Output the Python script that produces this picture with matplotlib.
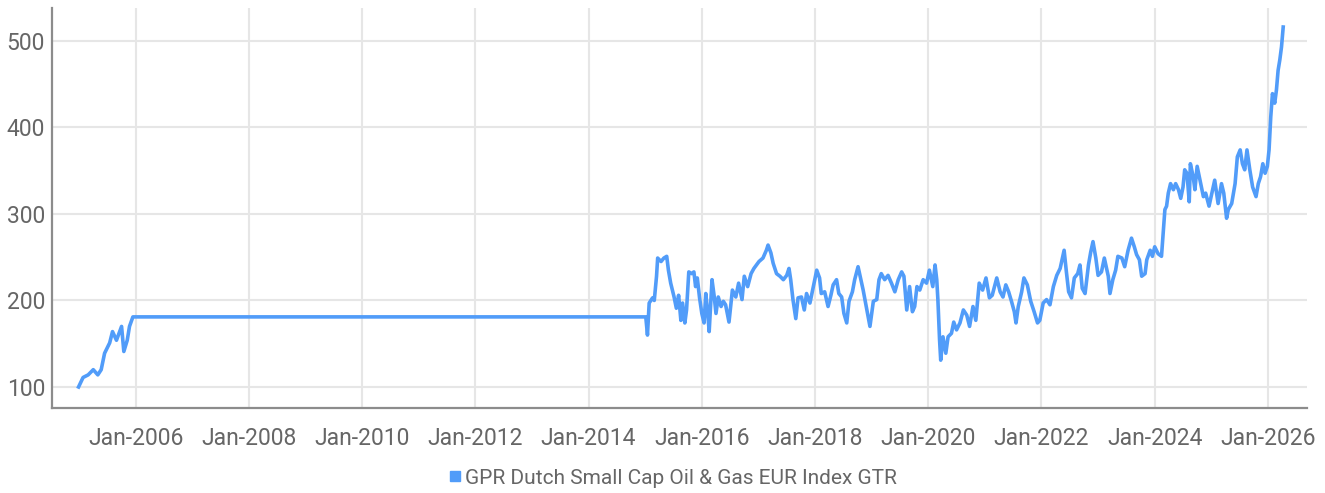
import matplotlib
matplotlib.use("Agg")
import matplotlib.pyplot as plt
from matplotlib.lines import Line2D

plt.rcParams['font.family'] = ['Roboto', 'DejaVu Sans']

series_name = "GPR Dutch Small Cap Oil & Gas EUR Index GTR"

# decimal years
years = [
    2004.99, 2005.07, 2005.16, 2005.25, 2005.33, 2005.39, 2005.45, 2005.54,
    2005.59, 2005.66, 2005.75, 2005.79, 2005.85, 2005.89, 2005.95, 2006.01,
    2015.01, 2015.04, 2015.07, 2015.13, 2015.16, 2015.20, 2015.22, 2015.28,
    2015.33, 2015.38, 2015.41, 2015.45, 2015.51, 2015.55, 2015.59, 2015.63,
    2015.66, 2015.70, 2015.73, 2015.77, 2015.82, 2015.86, 2015.89, 2015.92,
    2015.96, 2016.00, 2016.04, 2016.07, 2016.10, 2016.13, 2016.18, 2016.22,
    2016.25, 2016.29, 2016.34, 2016.38, 2016.42, 2016.48, 2016.54, 2016.60,
    2016.65, 2016.71, 2016.75, 2016.81, 2016.87, 2016.92, 2017.01, 2017.08,
    2017.14, 2017.17, 2017.22, 2017.26, 2017.32, 2017.38, 2017.44, 2017.50,
    2017.54, 2017.57, 2017.61, 2017.66, 2017.70, 2017.76, 2017.81, 2017.85,
    2017.91, 2017.97, 2018.03, 2018.08, 2018.11, 2018.17, 2018.23, 2018.28,
    2018.32, 2018.38, 2018.42, 2018.47, 2018.51, 2018.56, 2018.60, 2018.66,
    2018.70, 2018.76, 2018.81, 2018.85, 2018.91, 2018.97, 2019.03, 2019.09,
    2019.13, 2019.17, 2019.23, 2019.29, 2019.35, 2019.41, 2019.47, 2019.53,
    2019.57, 2019.62, 2019.67, 2019.72, 2019.76, 2019.80, 2019.85, 2019.91,
    2019.97, 2020.02, 2020.08, 2020.12, 2020.15, 2020.17, 2020.20, 2020.22,
    2020.26, 2020.31, 2020.35, 2020.41, 2020.45, 2020.50, 2020.56, 2020.62,
    2020.68, 2020.73, 2020.79, 2020.84, 2020.90, 2020.96, 2021.02, 2021.08,
    2021.13, 2021.21, 2021.27, 2021.32, 2021.37, 2021.42, 2021.47, 2021.52,
    2021.55, 2021.59, 2021.65, 2021.69, 2021.75, 2021.81, 2021.87, 2021.93,
    2021.97, 2022.03, 2022.09, 2022.15, 2022.21, 2022.27, 2022.33, 2022.37,
    2022.40, 2022.44, 2022.48, 2022.53, 2022.58, 2022.64, 2022.68, 2022.72,
    2022.77, 2022.83, 2022.87, 2022.91, 2022.96, 2023.00, 2023.06, 2023.11,
    2023.18, 2023.21, 2023.26, 2023.31, 2023.35, 2023.42, 2023.47, 2023.53,
    2023.59, 2023.64, 2023.68, 2023.73, 2023.77, 2023.83, 2023.86, 2023.92,
    2023.96, 2024.00, 2024.06, 2024.12, 2024.15, 2024.18, 2024.21, 2024.24,
    2024.28, 2024.33, 2024.37, 2024.42, 2024.46, 2024.50, 2024.53, 2024.57,
    2024.61, 2024.63, 2024.68, 2024.71, 2024.75, 2024.80, 2024.86, 2024.90,
    2024.96, 2025.01, 2025.06, 2025.12, 2025.18, 2025.22, 2025.27, 2025.30,
    2025.36, 2025.42, 2025.46, 2025.51, 2025.55, 2025.59, 2025.63, 2025.68,
    2025.73, 2025.79, 2025.83, 2025.87, 2025.91, 2025.95, 2025.99, 2026.02,
    2026.05, 2026.08, 2026.12, 2026.15, 2026.18, 2026.21, 2026.24, 2026.27,
]

index_values = [
    100, 111, 114, 120, 114, 120, 139, 151,
    164, 154, 170, 141, 154, 170, 181, 181,
    181, 160, 197, 203, 200, 228, 249, 245,
    249, 251, 235, 220, 204, 191, 206, 177,
    197, 174, 189, 233, 231, 233, 216, 226,
    203, 185, 174, 208, 189, 164, 224, 204,
    185, 204, 193, 199, 195, 175, 212, 204,
    220, 201, 228, 216, 231, 237, 245, 249,
    258, 264, 255, 243, 231, 228, 224, 229,
    237, 224, 201, 179, 203, 204, 189, 208,
    197, 216, 235, 226, 208, 210, 193, 206,
    218, 224, 208, 204, 185, 174, 199, 210,
    224, 239, 224, 212, 191, 170, 199, 201,
    224, 231, 224, 229, 220, 210, 224, 233,
    228, 189, 216, 187, 193, 216, 212, 224,
    220, 235, 216, 241, 224, 201, 154, 131,
    158, 139, 158, 162, 175, 166, 174, 189,
    183, 170, 193, 177, 220, 212, 226, 203,
    206, 226, 210, 204, 218, 210, 199, 187,
    174, 193, 210, 226, 218, 199, 187, 174,
    177, 197, 201, 195, 216, 229, 237, 249,
    258, 233, 210, 203, 226, 231, 241, 214,
    208, 241, 256, 268, 249, 229, 233, 249,
    228, 208, 224, 235, 251, 249, 239, 258,
    272, 262, 253, 247, 228, 231, 247, 258,
    251, 262, 254, 251, 278, 305, 309, 324,
    335, 328, 335, 328, 318, 331, 351, 347,
    314, 358, 343, 328, 355, 339, 320, 324,
    309, 324, 339, 312, 335, 324, 295, 305,
    312, 335, 366, 374, 358, 351, 374, 351,
    331, 320, 335, 343, 358, 347, 355, 374,
    412, 439, 428, 443, 466, 478, 493, 516,
]

x_ticks = list(range(2006, 2027, 2))
x_labels = ["Jan-%d" % y for y in x_ticks]
y_ticks = [100, 200, 300, 400, 500]

fig = plt.figure(figsize=(13.25, 4.93), dpi=100)
ax = fig.add_axes([0.0392, 0.1724, 0.9472, 0.8114])

ax.plot(years, index_values, color='#519cf9', lw=2.6, solid_joinstyle='round', zorder=3)

ax.set_xlim(2004.52, 2026.69)
ax.set_ylim(75.7, 538)
ax.set_xticks(x_ticks)
ax.set_xticklabels(x_labels)
ax.set_yticks(y_ticks)

ax.grid(True, color='#e6e6e6', lw=1.5)
ax.set_axisbelow(True)
for s in ['top', 'right']:
    ax.spines[s].set_visible(False)
for s in ['left', 'bottom']:
    ax.spines[s].set_color('#8c8c8c')
    ax.spines[s].set_linewidth(1.6)

ax.tick_params(axis='both', length=0, labelsize=16.5, labelcolor='#666666')
ax.tick_params(axis='x', pad=14)
ax.tick_params(axis='y', pad=5)

handle = Line2D([], [], color='#519cf9', marker='s', linestyle='none', markersize=7.5)
fig.legend([handle], [series_name], loc='center', bbox_to_anchor=(0.507, 0.03),
           frameon=False, fontsize=15, labelcolor='#666666',
           handletextpad=0.1, handlelength=0.8)

fig.savefig('out.png', dpi=100)
